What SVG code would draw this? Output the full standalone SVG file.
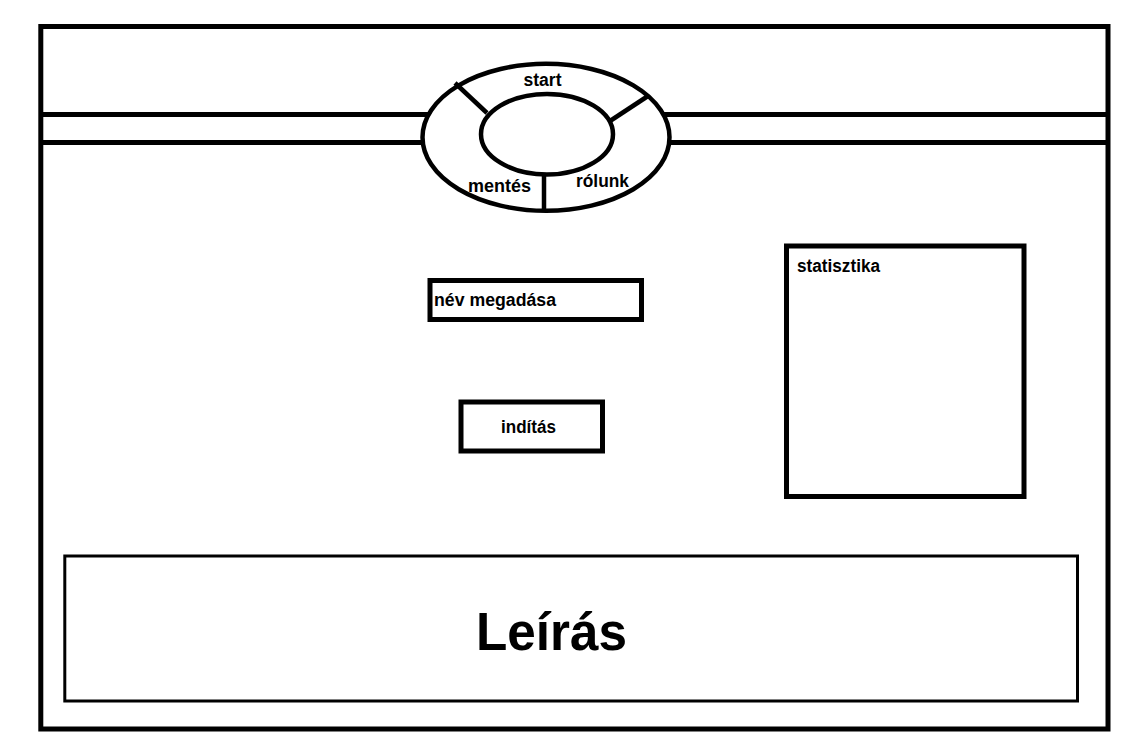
<svg xmlns="http://www.w3.org/2000/svg" width="1138" height="751" viewBox="0 0 1138 751">
<style>
.bold{stroke:#000;stroke-width:5;fill:none}
.thin{stroke:#000;stroke-width:3;fill:none}
.lbl{font-family:"Liberation Sans",Arial,sans-serif;font-weight:bold;font-size:18px;fill:#000}
.big{font-family:"Liberation Sans",Arial,sans-serif;font-weight:bold;font-size:54px;fill:#000}
</style>
<rect width="1138" height="751" fill="#fff"/>
<g id="frame">
<rect class="bold" x="40.8" y="26.5" width="1067.2" height="702.5"/>
<line class="bold" x1="40.8" y1="114.5" x2="1108" y2="114.5"/>
<line class="bold" x1="40.8" y1="142.5" x2="1108" y2="142.5"/>
</g>
<g id="menu">
<ellipse cx="546" cy="137.3" rx="123.5" ry="73.5" fill="#fff" stroke="#000" stroke-width="4.5"/>
<ellipse cx="547" cy="134.2" rx="66" ry="40.3" fill="none" stroke="#000" stroke-width="4.5"/>
<line x1="455" y1="83" x2="487" y2="113" stroke="#000" stroke-width="4.5"/>
<line x1="648" y1="96" x2="610" y2="121" stroke="#000" stroke-width="4.5"/>
<line x1="544" y1="174" x2="544" y2="210" stroke="#000" stroke-width="4.5"/>
<text class="lbl" x="542.5" y="86" text-anchor="middle" textLength="38" lengthAdjust="spacingAndGlyphs">start</text>
<text class="lbl" x="468" y="192" textLength="63" lengthAdjust="spacingAndGlyphs">mentés</text>
<text class="lbl" x="576" y="187" textLength="53" lengthAdjust="spacingAndGlyphs">rólunk</text>
</g>
<g id="nev-megadasa">
<rect class="bold" x="430" y="280.5" width="211.5" height="39"/>
<text class="lbl" x="434" y="306" textLength="122" lengthAdjust="spacingAndGlyphs">név megadása</text>
</g>
<g id="inditas">
<rect class="bold" x="461" y="402" width="141.5" height="49"/>
<text class="lbl" x="501" y="433" textLength="55" lengthAdjust="spacingAndGlyphs">indítás</text>
</g>
<g id="statisztika">
<rect class="bold" x="786.5" y="246" width="237.5" height="250.5"/>
<text class="lbl" x="797" y="272" textLength="83" lengthAdjust="spacingAndGlyphs">statisztika</text>
</g>
<g id="leiras">
<rect class="thin" x="64.8" y="556" width="1012.7" height="145"/>
<text class="big" x="476" y="650" textLength="151" lengthAdjust="spacingAndGlyphs">Leírás</text>
</g>
</svg>
